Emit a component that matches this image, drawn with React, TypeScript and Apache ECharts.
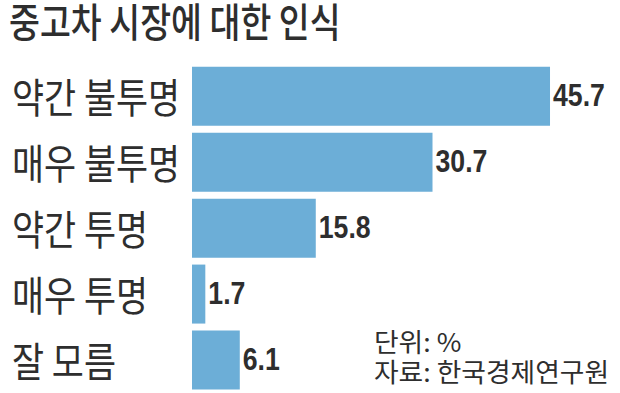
import React, { useEffect, useRef } from "react";
import * as echarts from "echarts";

const title = "중고차 시장에 대한 인식";
const categories = ["약간 불투명", "매우 불투명", "약간 투명", "매우 투명", "잘 모름"];
const values = [45.7, 30.7, 15.8, 1.7, 6.1];
const noteLines = ["단위: %", "자료: 한국경제연구원"];

const KR = "'Noto Sans CJK KR', 'Noto Sans', sans-serif";
const NUM = "'Liberation Sans', Arial, sans-serif";
const TEXT = "#2e2e2e";
const BAR = "#6caed7";

export default function App() {
  const ref = useRef<HTMLDivElement>(null);
  useEffect(() => {
    if (!ref.current) return;
    const chart = echarts.init(ref.current, null, { renderer: "svg" });
    chart.setOption({
      animation: false,
      backgroundColor: "#ffffff",
      grid: { left: 192, right: 36.3, top: 63.25, bottom: -2.75, containLabel: false },
      xAxis: {
        type: "value",
        min: 0,
        max: 50,
        show: false,
      },
      yAxis: {
        type: "category",
        data: categories,
        inverse: true,
        axisLine: { show: false },
        axisTick: { show: false },
        axisLabel: { show: false },
      },
      series: [
        {
          type: "bar",
          data: values,
          barWidth: 59,
          itemStyle: { color: BAR },
        },
        {
          type: "custom",
          clip: false,
          silent: true,
          encode: { x: 0, y: 1 },
          data: values.map((v, i) => [v, categories[i]]),
          renderItem: (params: any, api: any) => {
            const pt = api.coord([api.value(0), api.value(1)]);
            return {
              type: "text",
              x: pt[0] + 3,
              y: pt[1] - 1,
              scaleX: 0.86,
              style: {
                text: values[params.dataIndex].toFixed(1),
                fontSize: 31,
                fontWeight: "bold",
                fontFamily: NUM,
                fill: TEXT,
                align: "left",
                verticalAlign: "middle",
              },
            };
          },
        },
        {
          type: "custom",
          clip: false,
          silent: true,
          encode: { x: 0, y: 1 },
          data: categories.map((c) => [0, c]),
          renderItem: (params: any, api: any) => {
            const pt = api.coord([0, api.value(1)]);
            return {
              type: "text",
              x: 12,
              y: pt[1] - 1,
              scaleX: 0.85,
              style: {
                text: categories[params.dataIndex],
                fontSize: 41,
                fontFamily: KR,
                fill: TEXT,
                align: "left",
                verticalAlign: "middle",
              },
            };
          },
        },
      ],
      graphic: [
        {
          type: "text",
          x: 9,
          y: 20,
          scaleX: 0.84,
          style: {
            text: title,
            fontSize: 40,
            lineHeight: 40,
            fontWeight: 500,
            fontFamily: KR,
            fill: TEXT,
            verticalAlign: "middle",
          },
        },
        {
          type: "text",
          x: 374,
          y: 341,
          scaleX: 1.03,
          style: {
            text: noteLines[0],
            fontSize: 26,
            fontFamily: KR,
            fill: TEXT,
            verticalAlign: "middle",
          },
        },
        {
          type: "text",
          x: 374,
          y: 370.5,
          scaleX: 1.03,
          style: {
            text: noteLines[1],
            fontSize: 26,
            fontFamily: KR,
            fill: TEXT,
            verticalAlign: "middle",
          },
        },
      ],
    });
    return () => chart.dispose();
  }, []);
  return (
    <div
      ref={ref}
      style={{ position: "absolute", left: 0, top: 0, width: 620, height: 393 }}
    />
  );
}
